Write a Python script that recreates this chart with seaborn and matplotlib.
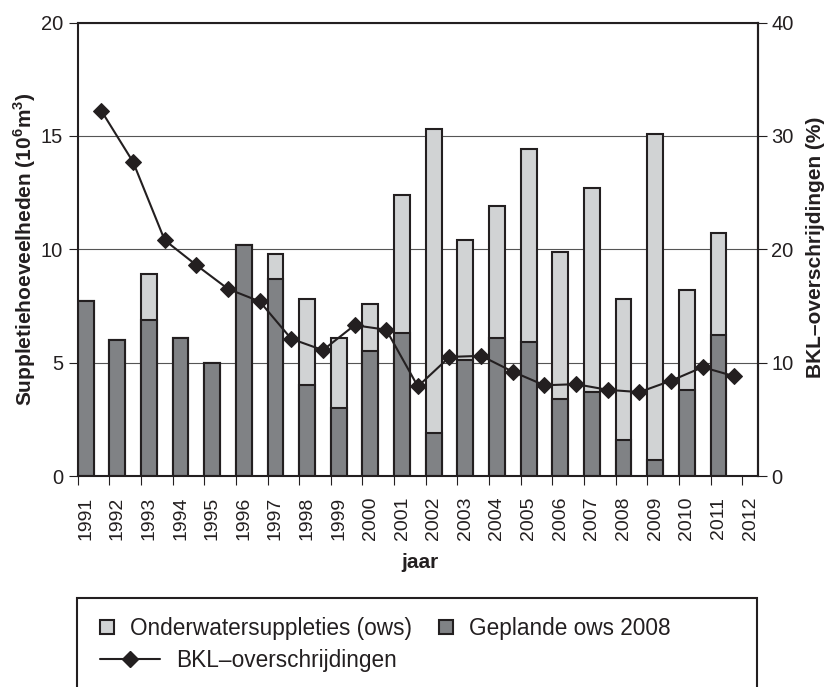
import seaborn as sns
import matplotlib.pyplot as plt
from matplotlib.lines import Line2D
from matplotlib.patches import Rectangle
import pandas as pd
import numpy as np

# Values
years = list(range(1991, 2013))
ows_total = [7.7, 6.0, 8.9, 6.1, 5.0, 10.2, 9.8, 7.8, 6.1, 7.6, 12.4,
             15.3, 10.4, 11.9, 14.4, 9.9, 12.7, 7.8, 15.1, 8.2, 10.7]
geplande = [7.7, 6.0, 6.9, 6.1, 5.0, 10.2, 8.7, 4.0, 3.0, 5.5, 6.3,
            1.9, 5.1, 6.1, 5.9, 3.4, 3.7, 1.6, 0.7, 3.8, 6.2]
bkl = [32.2, 27.7, 20.8, 18.6, 16.5, 15.4, 12.1, 11.1, 13.3, 12.9, 7.9,
       10.5, 10.6, 9.2, 8.0, 8.1, 7.6, 7.4, 8.4, 9.6, 8.8]

LIGHT = "#d1d3d4"
DARK = "#808285"
INK = "#231f20"

sns.set_style("white")
plt.rcParams["font.family"] = ["Liberation Sans", "DejaVu Sans"]
plt.rcParams["mathtext.fontset"] = "custom"
plt.rcParams["mathtext.rm"] = "Liberation Sans"
plt.rcParams["mathtext.bf"] = "Liberation Sans:bold"
plt.rcParams["text.color"] = INK
plt.rcParams["axes.labelcolor"] = INK
plt.rcParams["xtick.color"] = INK
plt.rcParams["ytick.color"] = INK

slot = np.arange(len(ows_total))
df = pd.DataFrame({
    "bar_x": slot + 0.25,   # bars fill the left half of each year slot
    "line_x": slot + 0.75,  # line points sit in the gaps
    "ows": ows_total,
    "geplande": geplande,
    "bkl": bkl,
})

fig = plt.figure(figsize=(8.27, 6.87), dpi=100)
ax = fig.add_axes([77.7 / 827, 1 - 476 / 687, 680.3 / 827, 453.5 / 687])
ax2 = ax.twinx()

bar_kw = dict(native_scale=True, width=0.5, saturation=1, orient="x",
              edgecolor=INK, linewidth=1.5, errorbar=None, ax=ax)
sns.barplot(data=df, x="bar_x", y="ows", color=LIGHT, **bar_kw)
sns.barplot(data=df, x="bar_x", y="geplande", color=DARK, **bar_kw)

sns.lineplot(data=df, x="line_x", y="bkl", ax=ax2, color=INK, linewidth=1.5,
             marker="D", markersize=8, markeredgecolor=INK)

# axes limits and ticks
ax.set_xlim(0, len(years) - 0.5)
ax.set_ylim(0, 20)
ax2.set_ylim(0, 40)
ax.set_yticks([0, 5, 10, 15, 20])
ax2.set_yticks([0, 10, 20, 30, 40])
ax.set_xticks(np.arange(len(years)))
ax.set_xticklabels([])
ax.set_xticks(np.arange(len(years)) + 0.25, minor=True)
ax.set_xticklabels([str(y) for y in years], minor=True, rotation=90, fontsize=14)
ax.tick_params(axis="x", which="major", direction="out", length=6.5, width=0.8,
               bottom=True)
ax.tick_params(axis="x", which="minor", length=0, pad=15)
ax.tick_params(axis="y", direction="out", length=6.5, width=0.8, pad=4,
               labelsize=14.5, left=True)
ax2.tick_params(axis="y", direction="out", length=6.5, width=0.8, pad=3,
                labelsize=14.5, right=True)

ax.yaxis.grid(True, color="#555555", linewidth=0.8)
ax.set_axisbelow(True)

for sp in ax.spines.values():
    sp.set_color(INK)
    sp.set_linewidth(1.5)
for sp in ax2.spines.values():
    sp.set_visible(False)
ax2.spines["right"].set_visible(True)
ax2.spines["right"].set_color(INK)
ax2.spines["right"].set_linewidth(1.5)

ax.set_xlabel("jaar", fontsize=15, fontweight="bold", va="center")
ax.xaxis.set_label_coords(0.503, -0.19)
ax.set_ylabel(r"Suppletiehoeveelheden (10$^{\mathbf{6}}$m$^{\mathbf{3}}$)",
              fontsize=15, fontweight="bold", va="center")
ax.yaxis.set_label_coords(-0.0775, 0.5)
ax2.set_ylabel("BKL–overschrijdingen (%)", fontsize=15, fontweight="bold",
               va="center", rotation=90)
ax2.yaxis.set_label_coords(1.0838, 0.504)

# legend box (runs off the bottom edge of the figure)
fig.add_artist(Rectangle((76.7 / 827, -0.1), 680.6 / 827, 0.1 + (1 - 598 / 687),
                         transform=fig.transFigure, fill=False, edgecolor=INK,
                         linewidth=1.5, clip_on=False))

fs = 16.3
px = fs * 100 / 72
sq = dict(marker="s", linestyle="none", markersize=10.5, markeredgecolor=INK,
          markeredgewidth=1.5)
h_light = Line2D([], [], markerfacecolor=LIGHT, **sq)
h_dark = Line2D([], [], markerfacecolor=DARK, **sq)
h_line = Line2D([], [], color=INK, linewidth=1.5, marker="D", markersize=8)

leg1 = fig.legend([h_light, h_dark],
                  ["Onderwatersuppleties (ows)", "Geplande ows 2008"],
                  ncol=2, loc="center left", frameon=False, fontsize=fs,
                  bbox_to_anchor=(99.3 / 827, 1 - 628.3 / 687),
                  borderpad=0, borderaxespad=0, handlelength=15 / px,
                  handletextpad=15.7 / px, columnspacing=26 / px, numpoints=1)
leg2 = fig.legend([h_line], ["BKL–overschrijdingen"], loc="center left",
                  frameon=False, fontsize=fs,
                  bbox_to_anchor=(100 / 827, 1 - 660 / 687),
                  borderpad=0, borderaxespad=0, handlelength=60 / px,
                  handletextpad=16 / px, numpoints=1)

plt.savefig("out.png", dpi=100)
plt.close()
